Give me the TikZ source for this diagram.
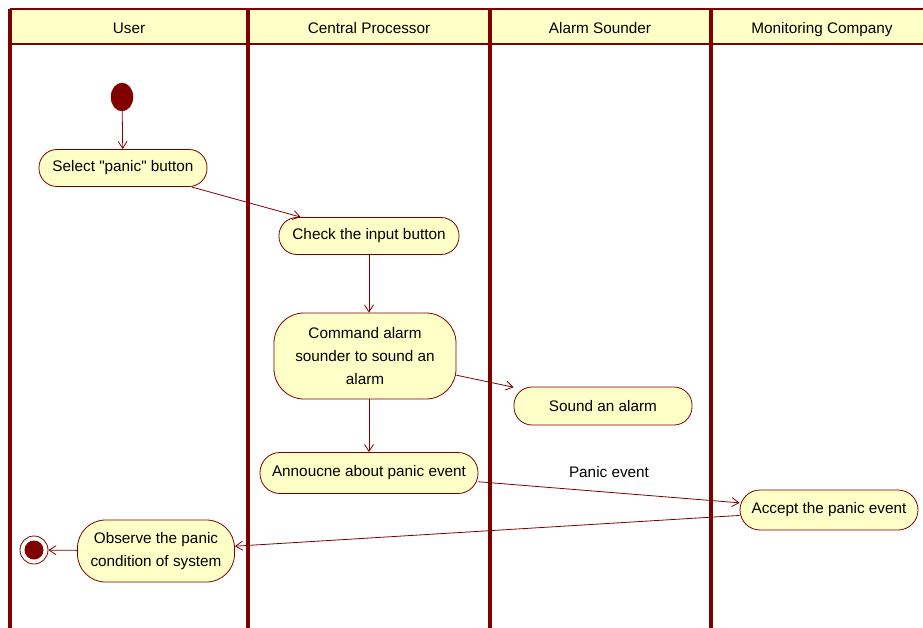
\documentclass[tikz,border=0pt]{standalone}
\usepackage{fontspec}
\newfontfamily\umlfont{Liberation Sans}
\usetikzlibrary{arrows.meta,shapes.geometric}
\definecolor{umlred}{HTML}{800000}
\definecolor{umlfill}{HTML}{FFFFC8}
\begin{document}
\begin{tikzpicture}[x=1pt,y=-1pt,
  font=\umlfont\fontsize{15.3}{23}\selectfont,
  lane/.style={draw=umlred,line width=3.2pt},
  headline/.style={draw=umlred,line width=2.2pt},
  action/.style={draw=umlred,fill=umlfill,line width=0.8pt,rounded corners=18pt,
    inner sep=0pt,align=center,text=black},
  flow/.style={draw=umlred,line width=0.8pt,-{Straight Barb[length=7pt,width=9pt]}},
  lanetitle/.style={text=black,anchor=center,text height=11pt,text depth=3pt}]
\useasboundingbox (0,0) rectangle (923,628);
\fill[white] (0,0) rectangle (923,628);
% swimlane header band
\fill[umlfill] (10,9) rectangle (923,44);
\draw[headline] (10,9) -- (923,9);
\draw[headline] (10,44) -- (923,44);
% lane dividers
\foreach \x in {10,248,490,711} \draw[lane] (\x,9) -- (\x,628);
% lane titles
\node[lanetitle] (tUser) at (129,30) {User};
\node[lanetitle] (tCpu) at (369,30) {Central Processor};
\node[lanetitle] (tSnd) at (600,30) {Alarm Sounder};
\node[lanetitle] (tMon) at (822,30) {Monitoring Company};
% start and end
\node[draw=umlred,fill=umlred,ellipse,minimum width=22pt,minimum height=28pt,inner sep=0pt] (ini) at (122,97) {};
\node[draw=umlred,fill=white,circle,line width=0.8pt,minimum size=28pt,inner sep=0pt] (fin) at (34,550) {};
\node[fill=umlred,circle,minimum size=19pt,inner sep=0pt] (finc) at (34,550) {};
% actions
\node[action,minimum width=168pt,minimum height=37pt] (sel) at (123,168) {Select "panic" button};
\node[action,minimum width=180pt,minimum height=37pt] (chk) at (369,236) {Check the input button};
\node[action,minimum width=182pt,minimum height=86pt,rounded corners=30pt] (cmd) at (365,356)
  {Command alarm\\sounder to sound an\\alarm};
\node[action,minimum width=178pt,minimum height=38pt] (snd) at (603,406) {Sound an alarm};
\node[action,minimum width=218pt,minimum height=41pt,rounded corners=20pt] (ann) at (369,473) {Annoucne about panic event};
\node[action,minimum width=178pt,minimum height=40pt,rounded corners=20pt] (acc) at (829,510) {Accept the panic event};
\node[action,minimum width=157pt,minimum height=62pt,rounded corners=28pt] (obs) at (156,551)
  {Observe the panic\\condition of system};
% control flows
\draw[flow] (ini) -- (sel);
\draw[flow] (sel) -- (chk);
\draw[flow] (chk) -- (chk |- cmd.north);
\draw[flow] (cmd) -- (snd);
\draw[flow] (cmd.south -| ann) -- (ann);
\draw[flow] (ann) -- (acc) node[pos=0.5,above=11pt,text=black] (lbl) {Panic event};
\draw[flow] (acc) -- (obs);
\draw[flow] (obs) -- (fin);
\end{tikzpicture}
\end{document}
